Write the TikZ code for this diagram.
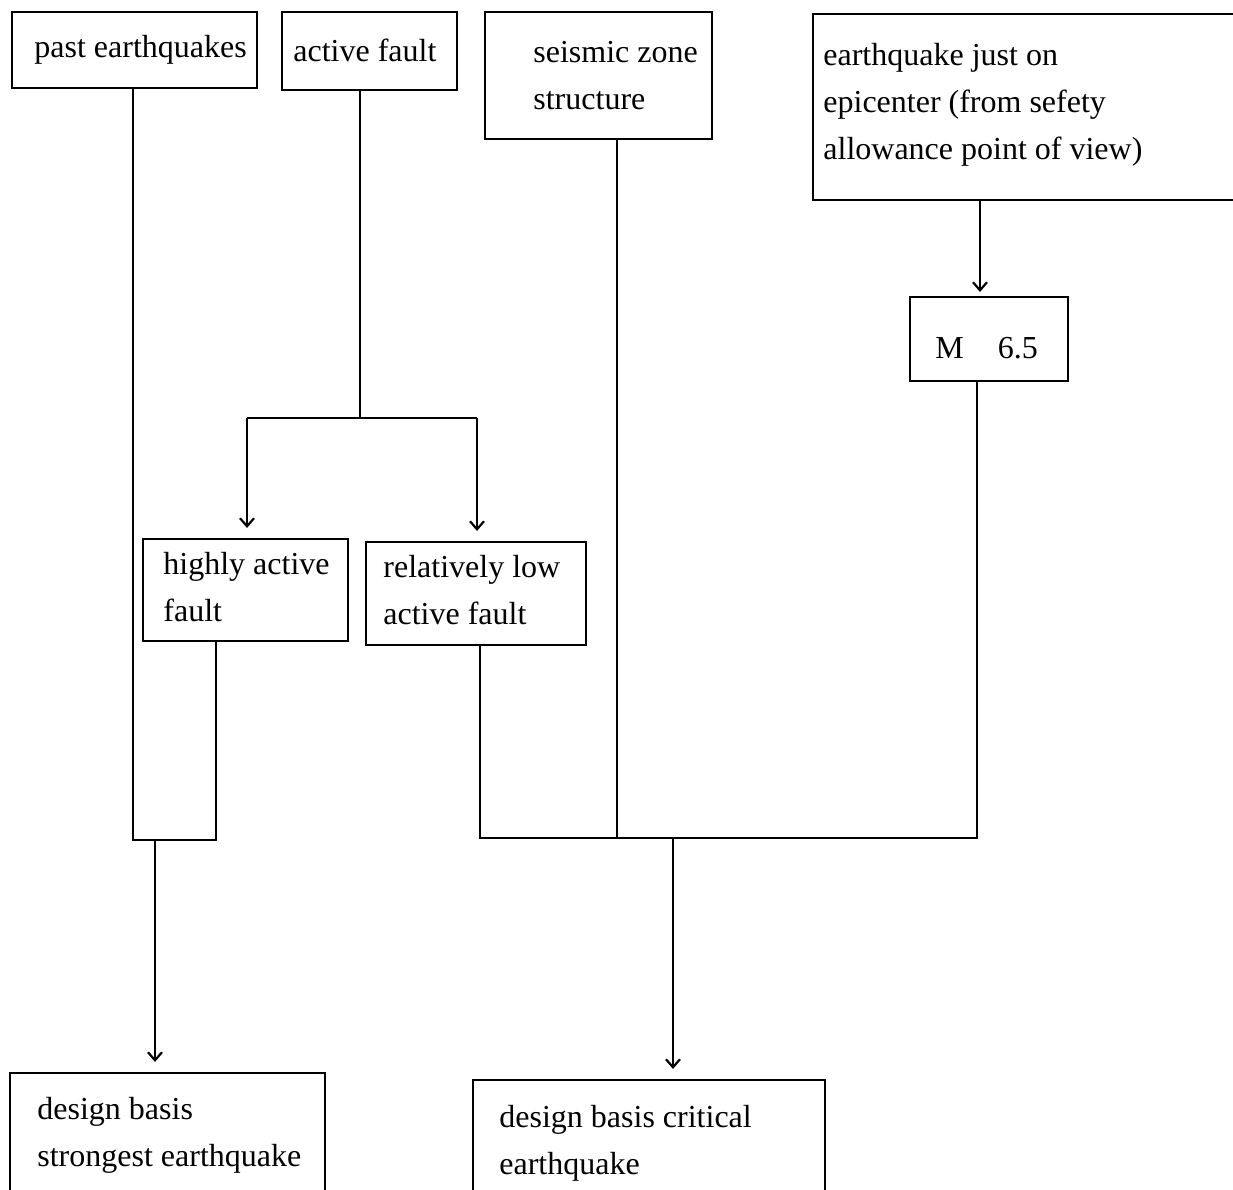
\documentclass[tikz,border=0pt]{standalone}
\usepackage{fontspec}
\setmainfont{Liberation Serif}
\usetikzlibrary{arrows.meta,fit}
\begin{document}
\begin{tikzpicture}[x=0.5pt,y=-0.5pt,
  box/.style={draw,line width=1.1pt,inner sep=0pt},
  txt/.style={anchor=west,inner sep=0pt,font=\fontsize{16}{23.5}\selectfont,align=left},
  ln/.style={line width=1.1pt},
  arr/.style={line width=1.1pt,-{Straight Barb[length=4pt,width=7pt]},shorten >=5pt}]
\useasboundingbox[fill=white] (0,0) rectangle (1233,1190);
% boxes
\node[box, fit={(12,12)(257,88)}] (pe) {};
\node[txt] (tpe) at (34,50) {past earthquakes};
\node[box, fit={(282,12)(457,90)}] (af) {};
\node[txt] (taf) at (293,50) {active fault};
\node[box, fit={(485,12)(712,139)}] (sz) {};
\node[txt] (tsz) at (533,76) {seismic zone\\structure};
\node[box, fit={(813,14)(1250,200)}] (eq) {};
\node[txt] (teq) at (823,105) {earthquake just on\\epicenter (from sefety\\allowance point of view)};
\node[box, fit={(910,297)(1068,381)}] (m) {};
\node[txt] (tm) at (935,348) {M\hspace{17pt}6.5};
\node[box, fit={(143,539)(348,641)}] (ha) {};
\node[txt] (tha) at (163,587) {highly active\\fault};
\node[box, fit={(366,542)(586,645)}] (rl) {};
\node[txt] (trl) at (383,590) {relatively low\\active fault};
\node[box, fit={(10,1073)(325,1200)}] (ds) {};
\node[txt] (tds) at (37,1135) {design basis\\strongest earthquake};
\node[box, fit={(473,1080)(825,1206)}] (dc) {};
\node[txt] (tdc) at (499,1143) {design basis critical\\earthquake};
% connectors
\draw[ln] (133,0 |- pe.south) -- (133,840) -- (216,840) -- (216,0 |- ha.south);
\draw[arr] (155,840) -- (155,0 |- ds.north);
\draw[ln] (360,0 |- af.south) -- (360,418);
\draw[ln] (247,418) -- (477,418);
\draw[arr] (247,418) -- (247,0 |- ha.north);
\draw[arr] (477,418) -- (477,0 |- rl.north);
\draw[ln] (617,0 |- sz.south) -- (617,838);
\draw[arr,shorten >=2pt] (980,0 |- eq.south) -- (980,0 |- m.north);
\draw[ln] (480,0 |- rl.south) -- (480,838) -- (977,838) -- (977,0 |- m.south);
\draw[arr] (673,838) -- (673,0 |- dc.north);
\end{tikzpicture}
\end{document}
